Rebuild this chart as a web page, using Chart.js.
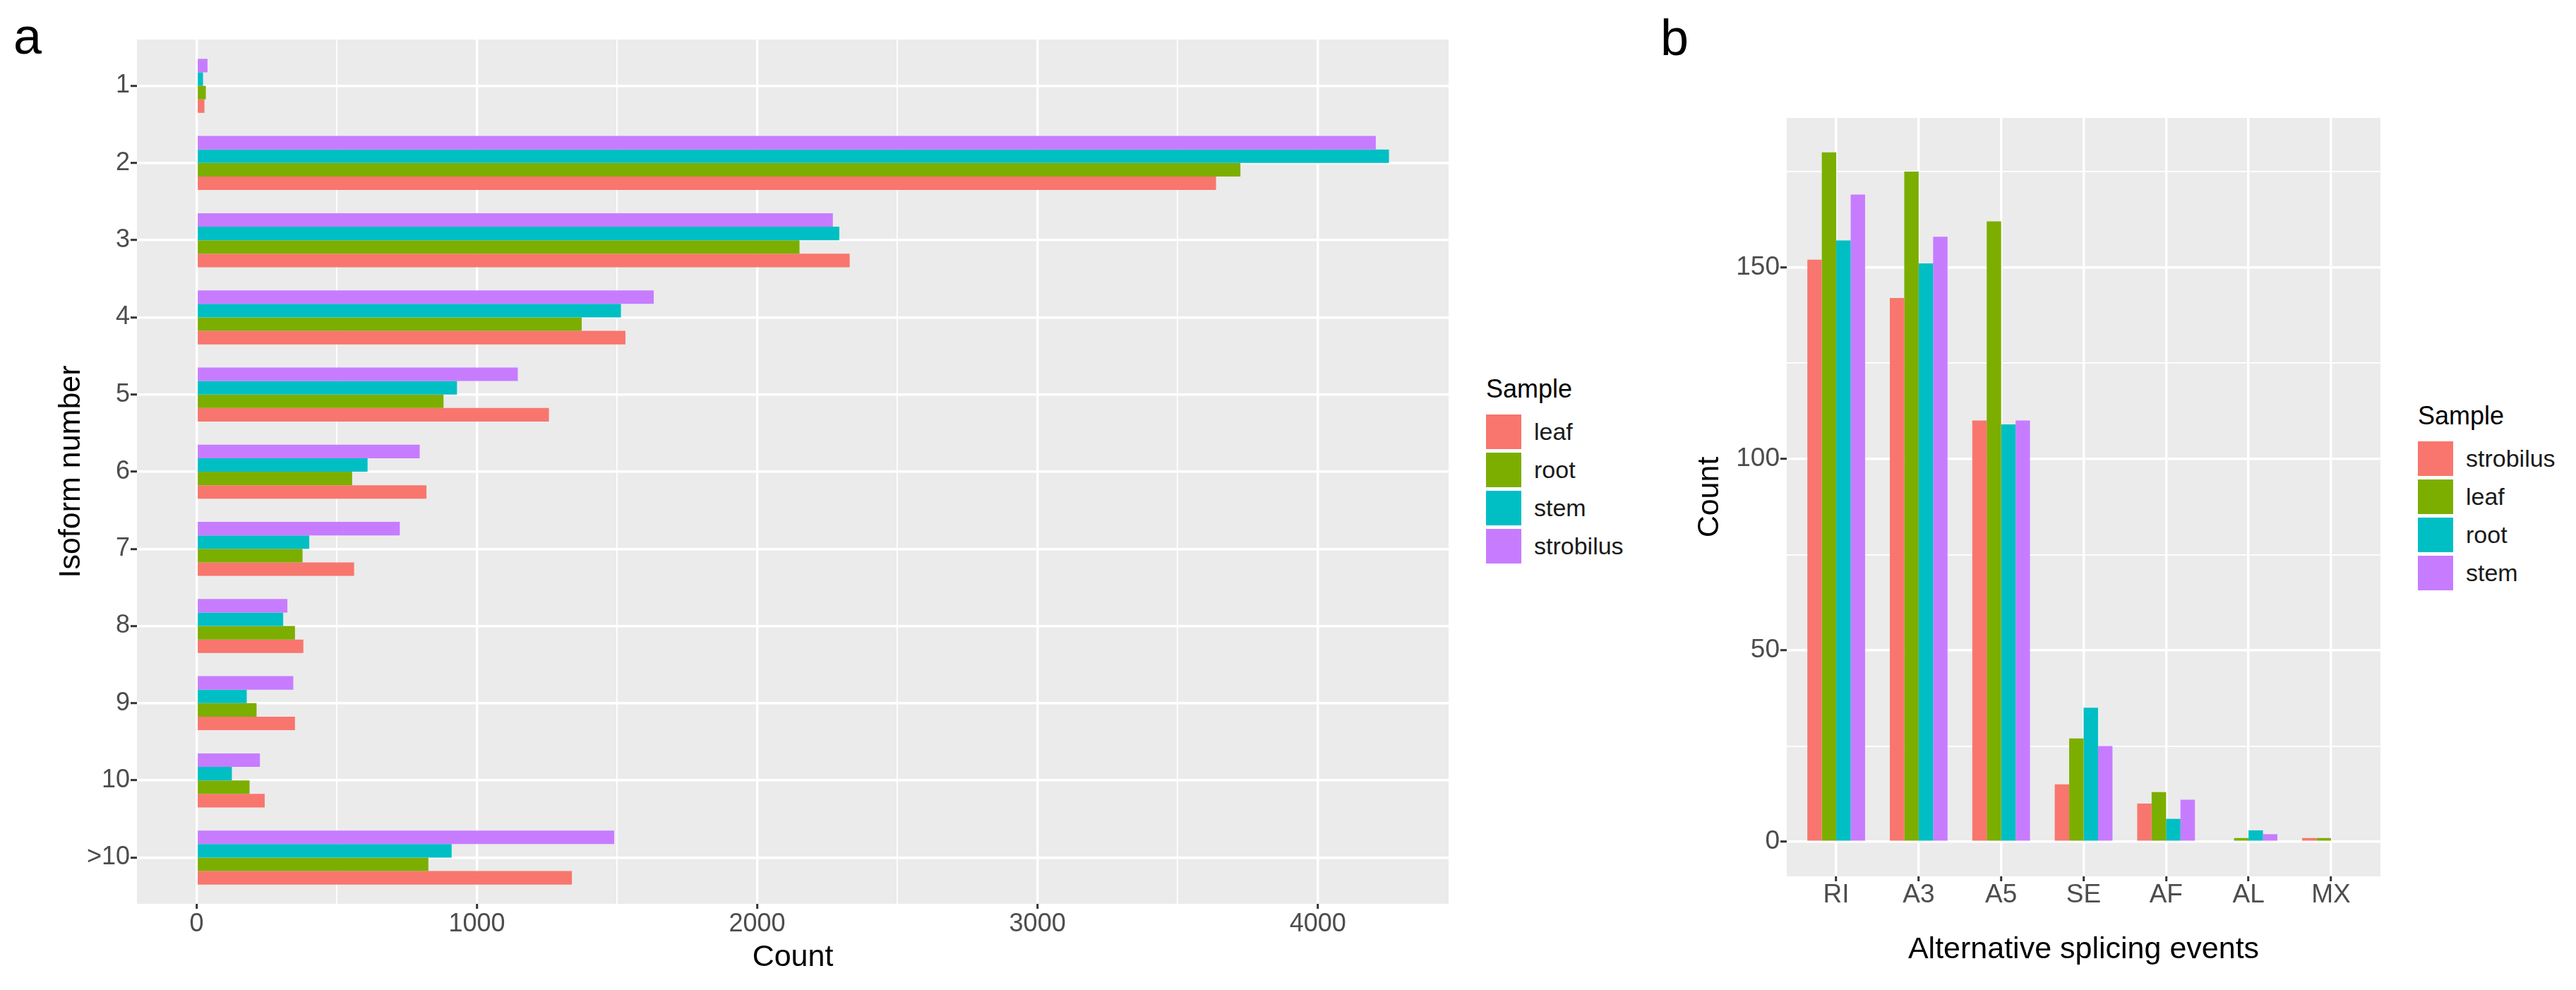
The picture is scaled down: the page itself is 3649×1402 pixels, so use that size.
<!DOCTYPE html>
<html>
<head>
<meta charset="utf-8">
<script src="https://cdn.jsdelivr.net/npm/chart.js@4.4.1/dist/chart.umd.min.js"></script>
<style>
html,body{margin:0;padding:0;background:#fff;}
body{width:3649px;height:1402px;position:relative;overflow:hidden;font-family:"Liberation Sans",Arial,sans-serif;}
canvas{position:absolute;}
.t{position:absolute;white-space:nowrap;color:#000;}
.key{position:absolute;width:50px;height:49px;}
</style>
</head>
<body>
<canvas id="ca" width="2060" height="1402" style="left:0px;top:0px;width:2060px;height:1402px;"></canvas>
<canvas id="cb" width="1080" height="1402" style="left:2300px;top:0px;width:1080px;height:1402px;"></canvas>
<div class="t" style="left:19px;top:15px;font-size:72px;line-height:72px;">a</div>
<div class="t" style="left:2352px;top:17px;font-size:72px;line-height:72px;">b</div>
<div id="legA"></div>
<div id="legB"></div>
<script>
// ---------- data: panel a (isoform number) ----------
const isoCategories = ['1','2','3','4','5','6','7','8','9','10','>10'];
const isoLeaf      = [28, 3637, 2330, 1530, 1257, 820, 562, 381, 351, 243, 1339];
const isoRoot      = [33, 3724, 2151, 1374, 881, 555, 378, 351, 214, 189, 827];
const isoStem      = [23, 4254, 2293, 1514, 929, 610, 402, 309, 179, 126, 910];
const isoStrobilus = [39, 4207, 2270, 1631, 1146, 796, 725, 324, 345, 226, 1490];
const isoTicks     = [0, 500, 1000, 1500, 2000, 2500, 3000, 3500, 4000];
const isoMajor     = [0, 1000, 2000, 3000, 4000];

// ---------- data: panel b (alternative splicing events) ----------
const asCategories = ['RI','A3','A5','SE','AF','AL','MX'];
const asStrobilus  = [152, 142, 110, 15, 10, 0, 1];
const asLeaf       = [180, 175, 162, 27, 13, 1, 1];
const asRoot       = [157, 151, 109, 35, 6, 3, 0];
const asStem       = [169, 158, 110, 25, 11, 2, 0];
const asTicks      = [0, 25, 50, 75, 100, 125, 150, 175];
const asMajor      = [0, 50, 100, 150];

const RED = '#F8766D', GREEN = '#7CAE00', TEAL = '#00BFC4', PURPLE = '#C77CFF';
const FONT = '"Liberation Sans", Arial, sans-serif';
const MAJOR_W = 3.4, MINOR_W = 1.7;

const bgPlugin = {
  id: 'panelBg',
  beforeDraw(chart) {
    const {ctx, chartArea: a} = chart;
    ctx.save();
    ctx.fillStyle = '#EBEBEB';
    ctx.fillRect(a.left, a.top, a.right - a.left, a.bottom - a.top);
    ctx.restore();
  }
};

function hbar(vals) { return vals.map((v, i) => ({x: v, y: i + 1})); }
function vbar(vals) { return vals.map((v, i) => ({x: i + 1, y: v})); }

const tickFont = {family: FONT, size: 36, lineHeight: 1};
const titleFont = {family: FONT, size: 43, lineHeight: 1};

// ---------- panel a ----------
const isoMax = Math.max(...isoLeaf, ...isoRoot, ...isoStem, ...isoStrobilus);
new Chart(document.getElementById('ca'), {
  type: 'bar',
  data: {
    datasets: [
      {label: 'strobilus', data: hbar(isoStrobilus), backgroundColor: PURPLE},
      {label: 'stem', data: hbar(isoStem), backgroundColor: TEAL},
      {label: 'root', data: hbar(isoRoot), backgroundColor: GREEN},
      {label: 'leaf', data: hbar(isoLeaf), backgroundColor: RED}
    ]
  },
  options: {
    indexAxis: 'y',
    responsive: false,
    animation: false,
    devicePixelRatio: 1,
    layout: {padding: {left: 0, top: 56, right: 8, bottom: 0}},
    plugins: {legend: {display: false}, tooltip: {enabled: false}},
    datasets: {bar: {categoryPercentage: 0.7, barPercentage: 1.0, borderWidth: 0}},
    scales: {
      x: {
        type: 'linear',
        offset: false,
        min: -0.05 * isoMax,
        max: 1.05 * isoMax,
        afterBuildTicks: s => { s.ticks = isoTicks.map(v => ({value: v})); },
        afterFit: s => { s.height = 122; },
        border: {display: false},
        grid: {
          offset: false,
          color: '#FFFFFF',
          lineWidth: c => isoMajor.includes(c.tick.value) ? MAJOR_W : MINOR_W,
          drawTicks: true,
          tickLength: 7,
          tickWidth: 3,
          tickColor: c => isoMajor.includes(c.tick.value) ? '#333333' : 'rgba(0,0,0,0)'
        },
        ticks: {
          autoSkip: false, maxRotation: 0, padding: 4,
          font: tickFont, color: '#4D4D4D',
          callback: v => isoMajor.includes(v) ? String(v) : ''
        },
        title: {display: true, text: 'Count', font: titleFont, color: '#000', padding: {top: 0, bottom: 24}}
      },
      y: {
        type: 'linear',
        offset: false,
        reverse: true,
        min: 0.4,
        max: isoCategories.length + 0.6,
        afterBuildTicks: s => { s.ticks = isoCategories.map((c, i) => ({value: i + 1})); },
        afterFit: s => { s.width = 194; },
        border: {display: false},
        grid: {offset: false, color: '#FFFFFF', lineWidth: MAJOR_W, drawTicks: true, tickLength: 9, tickWidth: 3, tickColor: '#333333'},
        ticks: {autoSkip: false, padding: 1, font: tickFont, color: '#4D4D4D',
          callback: (v, i) => isoCategories[i]},
        title: {display: true, text: 'Isoform number', font: titleFont, color: '#000', padding: {top: 80, bottom: 0}}
      }
    }
  },
  plugins: [bgPlugin]
});

// ---------- panel b ----------
const asMax = Math.max(...asStrobilus, ...asLeaf, ...asRoot, ...asStem);
new Chart(document.getElementById('cb'), {
  type: 'bar',
  data: {
    datasets: [
      {label: 'strobilus', data: vbar(asStrobilus), backgroundColor: RED},
      {label: 'leaf', data: vbar(asLeaf), backgroundColor: GREEN},
      {label: 'root', data: vbar(asRoot), backgroundColor: TEAL},
      {label: 'stem', data: vbar(asStem), backgroundColor: PURPLE}
    ]
  },
  options: {
    responsive: false,
    animation: false,
    devicePixelRatio: 1,
    layout: {padding: {left: 0, top: 167, right: 8, bottom: 0}},
    plugins: {legend: {display: false}, tooltip: {enabled: false}},
    datasets: {bar: {categoryPercentage: 0.7, barPercentage: 1.0, borderWidth: 0}},
    scales: {
      x: {
        type: 'linear',
        offset: false,
        min: 0.4,
        max: asCategories.length + 0.6,
        afterBuildTicks: s => { s.ticks = asCategories.map((c, i) => ({value: i + 1})); },
        afterFit: s => { s.height = 161; },
        border: {display: false},
        grid: {offset: false, color: '#FFFFFF', lineWidth: MAJOR_W, drawTicks: true, tickLength: 7, tickWidth: 3, tickColor: '#333333'},
        ticks: {autoSkip: false, maxRotation: 0, padding: 1, font: {family: FONT, size: 37, lineHeight: 1}, color: '#4D4D4D',
          callback: (v, i) => asCategories[i]},
        title: {display: true, text: 'Alternative splicing events', font: titleFont, color: '#000', padding: {top: 0, bottom: 35}}
      },
      y: {
        type: 'linear',
        offset: false,
        min: -0.05 * asMax,
        max: 1.05 * asMax,
        afterBuildTicks: s => { s.ticks = asTicks.map(v => ({value: v})); },
        afterFit: s => { s.width = 231; },
        border: {display: false},
        grid: {
          offset: false,
          color: '#FFFFFF',
          lineWidth: c => asMajor.includes(c.tick.value) ? MAJOR_W : MINOR_W,
          drawTicks: true, tickLength: 9, tickWidth: 3,
          tickColor: c => asMajor.includes(c.tick.value) ? '#333333' : 'rgba(0,0,0,0)'
        },
        ticks: {autoSkip: false, padding: 1, font: {family: FONT, size: 37, lineHeight: 1}, color: '#4D4D4D',
          callback: v => asMajor.includes(v) ? String(v) : ''},
        title: {display: true, text: 'Count', font: titleFont, color: '#000', padding: {top: 101, bottom: 0}}
      }
    }
  },
  plugins: [bgPlugin]
});

// ---------- legends ----------
function legend(el, left, titleTop, keyTops, names, colors) {
  let html = `<div class="t" style="left:${left}px;top:${titleTop}px;font-size:36px;line-height:36px;">Sample</div>`;
  names.forEach((n, i) => {
    html += `<div class="key" style="left:${left}px;top:${keyTops[i]}px;background:${colors[i]};"></div>`;
    html += `<div class="t" style="left:${left + 68}px;top:${keyTops[i]}px;font-size:34px;line-height:49px;color:#1A1A1A;">${n}</div>`;
  });
  el.innerHTML = html;
}
legend(document.getElementById('legA'), 2105, 533, [587, 641, 695, 749],
  ['leaf', 'root', 'stem', 'strobilus'], [RED, GREEN, TEAL, PURPLE]);
legend(document.getElementById('legB'), 3425, 571, [625, 679, 733, 787],
  ['strobilus', 'leaf', 'root', 'stem'], [RED, GREEN, TEAL, PURPLE]);
</script>
</body>
</html>
